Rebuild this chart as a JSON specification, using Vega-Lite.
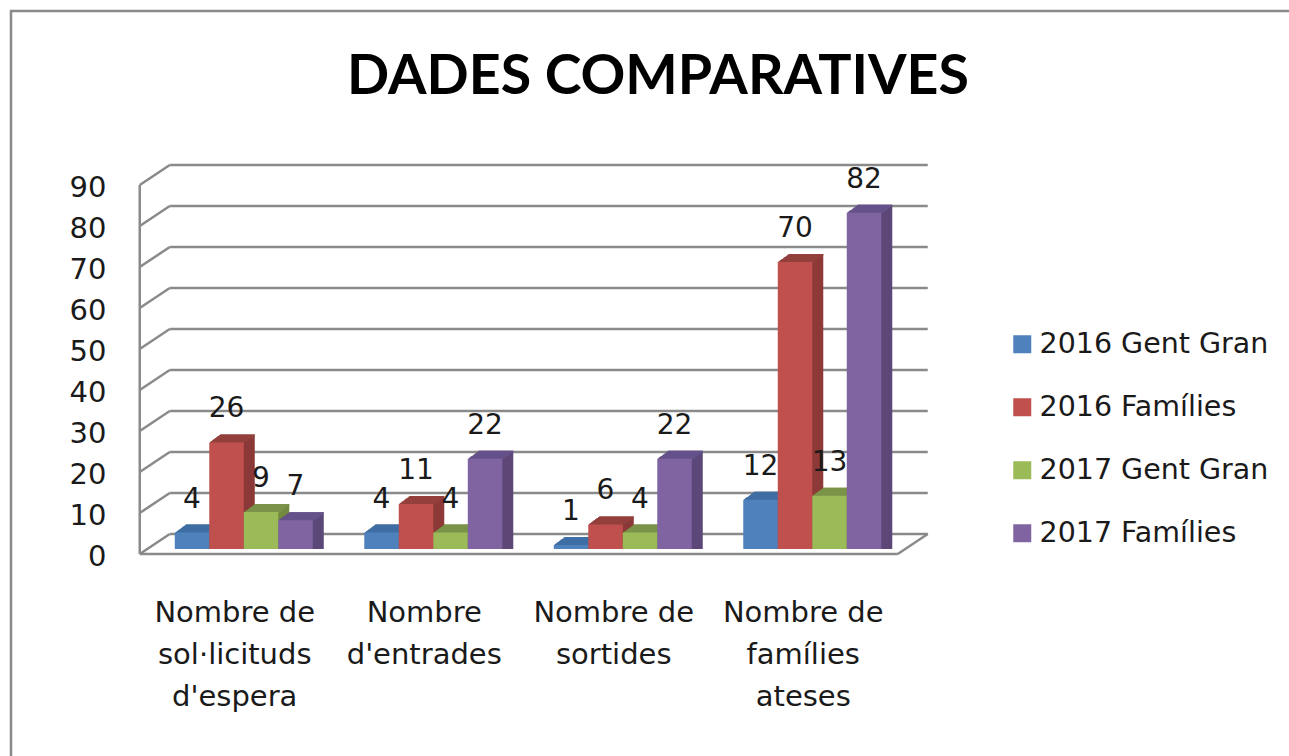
{"$schema":"https://vega.github.io/schema/vega-lite/v6.json","autosize":{"type":"none"},"width":758,"height":369,"padding":{"left":149,"top":180,"right":382,"bottom":207},"background":"white","config":{"view":{"stroke":null},"text":{"font":"DejaVu Sans"}},"title":{"text":"DADES COMPARATIVES","font":"Lato","fontWeight":"bold","fontSize":55.5,"color":"#000000","anchor":"middle","dx":130,"offset":-152,"baseline":"bottom"},"data":{"values":[{"cat":"Nombre de sol·licituds d'espera","serie":"2016 Gent Gran","v":4},{"cat":"Nombre de sol·licituds d'espera","serie":"2016 Famílies","v":26},{"cat":"Nombre de sol·licituds d'espera","serie":"2017 Gent Gran","v":9},{"cat":"Nombre de sol·licituds d'espera","serie":"2017 Famílies","v":7},{"cat":"Nombre d'entrades","serie":"2016 Gent Gran","v":4},{"cat":"Nombre d'entrades","serie":"2016 Famílies","v":11},{"cat":"Nombre d'entrades","serie":"2017 Gent Gran","v":4},{"cat":"Nombre d'entrades","serie":"2017 Famílies","v":22},{"cat":"Nombre de sortides","serie":"2016 Gent Gran","v":1},{"cat":"Nombre de sortides","serie":"2016 Famílies","v":6},{"cat":"Nombre de sortides","serie":"2017 Gent Gran","v":4},{"cat":"Nombre de sortides","serie":"2017 Famílies","v":22},{"cat":"Nombre de famílies ateses","serie":"2016 Gent Gran","v":12},{"cat":"Nombre de famílies ateses","serie":"2016 Famílies","v":70},{"cat":"Nombre de famílies ateses","serie":"2017 Gent Gran","v":13},{"cat":"Nombre de famílies ateses","serie":"2017 Famílies","v":82}]},"resolve":{"scale":{"color":"independent","xOffset":"independent"}},"layer":[{"data":{"values":[{"g":0},{"g":10},{"g":20},{"g":30},{"g":40},{"g":50},{"g":60},{"g":70},{"g":80},{"g":90}]},"layer":[{"mark":{"type":"rule","color":"#8a8a8a","strokeWidth":2.5,"yOffset":-15,"y2Offset":-15},"encoding":{"x":{"value":20.75},"x2":{"value":778.75},"y":{"field":"g","type":"quantitative","title":null,"scale":{"domain":[0,90]}},"y2":{"field":"g"}}},{"mark":{"type":"rule","color":"#8a8a8a","strokeWidth":2.5,"yOffset":5,"y2Offset":-15},"encoding":{"x":{"value":-9.25},"x2":{"value":20.75},"y":{"field":"g","type":"quantitative","title":null,"scale":{"domain":[0,90]}},"y2":{"field":"g"}}}]},{"data":{"values":[{"g":0,"g2":90}]},"mark":{"type":"rule","color":"#8a8a8a","strokeWidth":2.5,"yOffset":5,"y2Offset":5},"encoding":{"x":{"value":-9.25},"y":{"field":"g","type":"quantitative","title":null,"scale":{"domain":[0,90]}},"y2":{"field":"g2"}}},{"data":{"values":[{"g":0}]},"layer":[{"mark":{"type":"rule","color":"#8a8a8a","strokeWidth":2.5,"yOffset":5,"y2Offset":5},"encoding":{"x":{"value":-9.25},"x2":{"value":748.75},"y":{"field":"g","type":"quantitative","title":null,"scale":{"domain":[0,90]}},"y2":{"field":"g"}}},{"mark":{"type":"rule","color":"#8a8a8a","strokeWidth":2.5,"yOffset":5,"y2Offset":-15},"encoding":{"x":{"value":748.75},"x2":{"value":778.75},"y":{"field":"g","type":"quantitative","title":null,"scale":{"domain":[0,90]}},"y2":{"field":"g"}}},{"mark":{"type":"rect","fill":null,"stroke":"#8a8a8a","strokeWidth":2.5},"encoding":{"x":{"value":-138},"x2":{"value":1160},"y":{"value":-169},"y2":{"value":590}}}]},{"resolve":{"scale":{"color":"independent","xOffset":"independent"}},"encoding":{"x":{"field":"cat","type":"nominal","sort":null,"title":null,"scale":{"paddingInner":0.272,"paddingOuter":0.136},"axis":{"domain":false,"ticks":false,"labelAngle":0,"labelFont":"DejaVu Sans","labelFontSize":29,"labelColor":"#1a1a1a","labelPadding":49,"labelOffset":-9,"labelLineHeight":42,"labelLimit":400,"labelExpr":"datum.label=='Nombre de sol·licituds d\\'espera'?['Nombre de','sol·licituds','d\\'espera']:datum.label=='Nombre d\\'entrades'?['Nombre','d\\'entrades']:datum.label=='Nombre de sortides'?['Nombre de','sortides']:['Nombre de','famílies','ateses']"}},"y":{"field":"v","type":"quantitative","stack":null,"title":null,"scale":{"domain":[0,90]},"axis":{"values":[0,10,20,30,40,50,60,70,80,90],"domain":false,"ticks":false,"grid":false,"labelFont":"DejaVu Sans","labelFontSize":29,"labelColor":"#1a1a1a","labelPadding":43,"labelOffset":7.5}}},"layer":[{"resolve":{"scale":{"xOffset":"independent"}},"encoding":{"color":{"field":"serie","type":"nominal","sort":null,"legend":null,"scale":{"range":["#3a6391","#8c3a38","#72893f","#5c4878"]}}},"layer":[{"mark":{"type":"bar","yOffset":-8,"y2Offset":-8},"encoding":{"xOffset":{"field":"serie","type":"nominal","sort":null,"scale":{"range":[11,149]}}}},{"mark":{"type":"bar","yOffset":-7.3,"y2Offset":-7.3},"encoding":{"xOffset":{"field":"serie","type":"nominal","sort":null,"scale":{"range":[10,148]}}}},{"mark":{"type":"bar","yOffset":-6.5,"y2Offset":-6.5},"encoding":{"xOffset":{"field":"serie","type":"nominal","sort":null,"scale":{"range":[9,147]}}}},{"mark":{"type":"bar","yOffset":-5.8,"y2Offset":-5.8},"encoding":{"xOffset":{"field":"serie","type":"nominal","sort":null,"scale":{"range":[8,146]}}}},{"mark":{"type":"bar","yOffset":-5.1,"y2Offset":-5.1},"encoding":{"xOffset":{"field":"serie","type":"nominal","sort":null,"scale":{"range":[7,145]}}}},{"mark":{"type":"bar","yOffset":-4.4,"y2Offset":-4.4},"encoding":{"xOffset":{"field":"serie","type":"nominal","sort":null,"scale":{"range":[6,144]}}}},{"mark":{"type":"bar","yOffset":-3.6,"y2Offset":-3.6},"encoding":{"xOffset":{"field":"serie","type":"nominal","sort":null,"scale":{"range":[5,143]}}}},{"mark":{"type":"bar","yOffset":-2.9,"y2Offset":-2.9},"encoding":{"xOffset":{"field":"serie","type":"nominal","sort":null,"scale":{"range":[4,142]}}}},{"mark":{"type":"bar","yOffset":-2.2,"y2Offset":-2.2},"encoding":{"xOffset":{"field":"serie","type":"nominal","sort":null,"scale":{"range":[3,141]}}}},{"mark":{"type":"bar","yOffset":-1.5,"y2Offset":-1.5},"encoding":{"xOffset":{"field":"serie","type":"nominal","sort":null,"scale":{"range":[2,140]}}}},{"mark":{"type":"bar","yOffset":-0.7,"y2Offset":-0.7},"encoding":{"xOffset":{"field":"serie","type":"nominal","sort":null,"scale":{"range":[1,139]}}}}]},{"resolve":{"scale":{"xOffset":"independent"}},"encoding":{"y2":{"field":"v"},"color":{"field":"serie","type":"nominal","sort":null,"legend":null,"scale":{"range":["#3f6ea3","#93403d","#7a9349","#66528a"]}}},"layer":[{"mark":{"type":"bar","yOffset":-8,"y2Offset":-6.5},"encoding":{"xOffset":{"field":"serie","type":"nominal","sort":null,"scale":{"range":[11,149]}}}},{"mark":{"type":"bar","yOffset":-7.3,"y2Offset":-5.8},"encoding":{"xOffset":{"field":"serie","type":"nominal","sort":null,"scale":{"range":[10,148]}}}},{"mark":{"type":"bar","yOffset":-6.5,"y2Offset":-5},"encoding":{"xOffset":{"field":"serie","type":"nominal","sort":null,"scale":{"range":[9,147]}}}},{"mark":{"type":"bar","yOffset":-5.8,"y2Offset":-4.3},"encoding":{"xOffset":{"field":"serie","type":"nominal","sort":null,"scale":{"range":[8,146]}}}},{"mark":{"type":"bar","yOffset":-5.1,"y2Offset":-3.6},"encoding":{"xOffset":{"field":"serie","type":"nominal","sort":null,"scale":{"range":[7,145]}}}},{"mark":{"type":"bar","yOffset":-4.4,"y2Offset":-2.9},"encoding":{"xOffset":{"field":"serie","type":"nominal","sort":null,"scale":{"range":[6,144]}}}},{"mark":{"type":"bar","yOffset":-3.6,"y2Offset":-2.1},"encoding":{"xOffset":{"field":"serie","type":"nominal","sort":null,"scale":{"range":[5,143]}}}},{"mark":{"type":"bar","yOffset":-2.9,"y2Offset":-1.4},"encoding":{"xOffset":{"field":"serie","type":"nominal","sort":null,"scale":{"range":[4,142]}}}},{"mark":{"type":"bar","yOffset":-2.2,"y2Offset":-0.7},"encoding":{"xOffset":{"field":"serie","type":"nominal","sort":null,"scale":{"range":[3,141]}}}},{"mark":{"type":"bar","yOffset":-1.5,"y2Offset":0},"encoding":{"xOffset":{"field":"serie","type":"nominal","sort":null,"scale":{"range":[2,140]}}}},{"mark":{"type":"bar","yOffset":-0.7,"y2Offset":0.8},"encoding":{"xOffset":{"field":"serie","type":"nominal","sort":null,"scale":{"range":[1,139]}}}}]},{"mark":{"type":"bar"},"encoding":{"xOffset":{"field":"serie","type":"nominal","sort":null,"scale":{"range":[0,138]}},"color":{"field":"serie","type":"nominal","sort":null,"scale":{"range":["#4f81bd","#c0504d","#9bbb59","#8064a2"]},"legend":{"title":null,"orient":"none","legendX":859,"legendY":150,"symbolType":"square","symbolSize":324,"symbolStrokeWidth":0,"labelFont":"DejaVu Sans","labelFontSize":28.5,"labelColor":"#1a1a1a","labelLimit":400,"rowPadding":34,"labelOffset":3}}}},{"mark":{"type":"text","font":"DejaVu Sans","fontSize":28,"color":"#1a1a1a","dy":-33},"encoding":{"xOffset":{"field":"serie","type":"nominal","sort":null,"scale":{"range":[0,138]}},"text":{"field":"v","type":"quantitative"}}}]}]}
